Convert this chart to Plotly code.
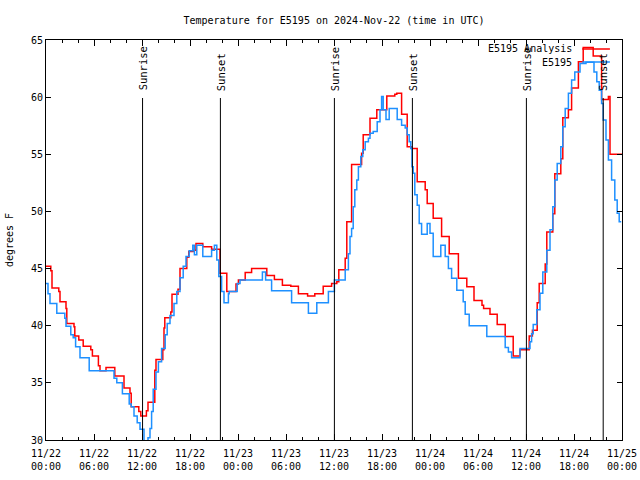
import pandas as pd
import plotly.graph_objects as go

# ---- data (hours since 2024-11-22 00:00 UTC, degrees F) ----
analysis_hours = [0.0, 0.6, 0.75, 1.6, 1.75, 2.5, 2.6, 3.5, 3.6, 4.1, 4.65, 5.6, 5.8, 6.55, 6.75,
                  7.5, 8.6, 9.75, 10.5, 10.65, 11.6, 11.85, 12.55, 12.75, 13.6, 13.75, 14.6, 14.75,
                  14.85, 15.6, 15.75, 16.5, 16.75, 17.6, 17.85, 18.4, 18.75, 19.6, 20.7, 21.75,
                  22.6, 23.75, 24.05, 24.9, 25.7, 27.6, 28.55, 29.55, 30.6, 31.55, 32.7, 33.6,
                  34.65, 35.7, 36.35, 36.6, 37.4, 37.6, 38.2, 39.45, 39.65, 40.5, 41.35, 42.6,
                  43.6, 43.85, 44.45, 45.15, 45.7, 46.4, 47.4, 47.65, 48.4, 49.45, 50.4, 51.55,
                  52.6, 53.5, 54.5, 54.7, 55.5, 56.4, 57.4, 58.4, 59.25, 60.4, 60.8, 61.4, 61.65,
                  62.4, 62.6, 63.35, 63.6, 64.35, 64.6, 65.3, 65.7, 66.55, 67.15, 68.4, 69.45,
                  70.3, 70.5, 72.0]
analysis_temps = [45.2, 44.8, 43.3, 43.0, 42.1, 41.5, 40.2, 39.9, 39.1, 38.75, 38.2, 37.9, 37.35,
                  36.5, 36.05, 36.35, 35.6, 34.55, 34.1, 32.9, 32.5, 32.1, 32.55, 33.3, 36.1,
                  37.05, 37.9, 39.8, 40.7, 41.2, 42.75, 43.2, 45.0, 46.0, 46.5, 46.6, 47.2, 46.9,
                  46.7, 44.6, 43.0, 43.65, 44.0, 44.65, 45.0, 44.4, 44.05, 43.55, 43.45, 42.8,
                  42.6, 42.8, 43.45, 43.7, 43.85, 44.9, 45.9, 49.1, 54.1, 55.1, 56.7, 58.15, 58.9,
                  60.1, 60.25, 60.35, 58.5, 55.65, 55.5, 52.6, 51.9, 50.7, 49.4, 47.8, 46.3,
                  44.15, 43.4, 42.2, 41.8, 41.5, 41.0, 40.1, 39.05, 37.35, 37.9, 39.1, 39.6,
                  42.0, 43.7, 45.4, 48.2, 49.8, 53.3, 54.6, 58.2, 58.9, 60.8, 63.1, 64.35, 63.6,
                  59.8, 60.05, 55.0, 55.0]

obs_hours = [0.0, 0.25, 0.5, 1.35, 2.35, 2.5, 3.1, 3.4, 3.7, 4.25, 5.4, 8.5, 8.85, 9.55, 10.4,
             10.65, 11.0, 11.4, 11.75, 12.25, 12.75, 13.0, 13.2, 13.4, 13.75, 14.05, 14.45,
             14.9, 15.15, 15.5, 16.0, 16.35, 16.75, 17.15, 17.5, 17.9, 18.35, 18.55, 18.85,
             19.6, 20.7, 21.05, 21.35, 21.6, 21.95, 22.25, 22.8, 22.9, 23.9, 24.25, 27.05,
             27.45, 28.2, 30.7, 32.8, 33.85, 35.3, 36.05, 37.4, 37.8, 38.0, 38.2, 38.4, 38.6,
             38.85, 39.05, 39.35, 39.6, 39.9, 40.3, 40.5, 40.9, 41.4, 41.75, 41.95, 42.15,
             42.5, 42.9, 43.9, 44.45, 44.9, 45.15, 45.4, 45.6, 45.75, 45.9, 46.1, 46.4, 46.65,
             46.95, 47.65, 48.0, 48.4, 49.35, 49.9, 50.3, 50.7, 51.35, 52.15, 52.4, 52.9,
             55.1, 57.4, 57.8, 58.2, 59.25, 60.5, 60.7, 60.9, 61.35, 61.75, 62.1, 62.6, 63.0,
             63.35, 63.6, 63.9, 64.35, 64.6, 64.9, 65.3, 65.7, 66.1, 66.75, 67.5, 68.5, 68.85,
             69.15, 69.45, 69.65, 70.0, 70.3, 70.7, 71.1, 71.4, 71.65, 71.9]
obs_temps = [43.7, 42.8, 41.95, 41.1, 40.65, 39.95, 39.2, 38.95, 38.15, 37.2, 36.05, 35.4, 35.0,
             34.05, 33.15, 32.9, 32.1, 31.5, 30.95, 29.5, 30.2, 31.0, 32.5, 34.45, 35.95, 36.85,
             38.0, 39.2, 40.2, 40.9, 41.95, 43.0, 44.2, 45.2, 46.05, 46.55, 47.05, 46.2, 47.05,
             46.05, 46.6, 47.05, 45.75, 44.3, 43.0, 42.0, 42.8, 43.0, 43.7, 44.0, 44.7, 44.0,
             43.05, 42.0, 41.1, 42.0, 43.0, 44.0, 44.9, 46.3, 47.8, 48.5, 50.4, 51.9, 52.75,
             53.9, 54.8, 55.4, 56.1, 56.4, 56.85, 57.0, 57.85, 58.9, 60.05, 58.9, 58.05, 59.0,
             58.05, 57.55, 57.3, 56.7, 56.1, 55.5, 53.9, 53.35, 51.45, 50.55, 48.95, 48.0,
             48.95, 48.1, 46.05, 47.05, 46.05, 45.0, 44.15, 43.1, 42.1, 41.0, 40.0, 39.05,
             38.1, 37.7, 37.2, 38.0, 38.6, 39.3, 40.1, 41.4, 42.85, 44.7, 46.6, 48.4, 50.4,
             52.75, 54.2, 55.65, 57.4, 59.0, 60.35, 61.5, 62.2, 62.95, 63.05, 62.2, 61.35,
             60.6, 59.45, 58.0, 56.25, 54.5, 52.75, 51.0, 49.85, 49.1, 49.1]

sun_hours = [12.07, 21.8, 36.05, 45.8, 60.05, 69.65]
sun_labels = ["Sunrise", "Sunset", "Sunrise", "Sunset", "Sunrise", "Sunset"]

series_names = ["E5195 Analysis", "E5195"]
series_colors = ["#ff0000", "#1e90ff"]

title_text = "Temperature for E5195 on 2024-Nov-22 (time in UTC)"
y_title = "degrees F"

start = pd.Timestamp("2024-11-22 00:00")
end = pd.Timestamp("2024-11-25 00:00")


def to_time(hours):
    return [start + pd.Timedelta(hours=h) for h in hours]


FONT = "DejaVu Sans Mono"
FS = 10
W, H = 640, 480

fig = go.Figure()
fig.add_trace(go.Scatter(x=to_time(analysis_hours), y=analysis_temps, mode="lines",
                         line=dict(color=series_colors[0], width=1.5, shape="hv"),
                         name=series_names[0], showlegend=False))
fig.add_trace(go.Scatter(x=to_time(obs_hours), y=obs_temps, mode="lines",
                         line=dict(color=series_colors[1], width=1.5, shape="hv"),
                         name=series_names[1], showlegend=False))

line_top = 0.855
for h, lab in zip(sun_hours, sun_labels):
    t = start + pd.Timedelta(hours=h)
    fig.add_shape(type="line", xref="x", yref="paper", x0=t, x1=t, y0=0, y1=line_top,
                  line=dict(color="black", width=1))
    fig.add_annotation(x=t, xref="x", y=line_top + 0.013, yref="paper", text=lab,
                       textangle=-90, showarrow=False, xanchor="center", yanchor="bottom",
                       font=dict(family=FONT, size=FS + 0.5, color="black"))

# manual legend (text left, sample right, like gnuplot)
leg_rows = [0.9775, 0.945]
for name, col, yy in zip(series_names, series_colors, leg_rows):
    fig.add_annotation(x=0.917, xref="paper", y=yy, yref="paper", text=name, showarrow=False,
                       xanchor="right", yanchor="middle",
                       font=dict(family=FONT, size=FS, color="black"))
    fig.add_shape(type="line", xref="paper", yref="paper", x0=0.931, x1=0.979, y0=yy, y1=yy,
                  line=dict(color=col, width=1.5))

tickvals = [start + pd.Timedelta(hours=6 * i) for i in range(13)]
ticktext = [t.strftime("%m/%d") + "<br>" + t.strftime("%H:%M") for t in tickvals]

fig.update_layout(
    width=W, height=H,
    paper_bgcolor="white", plot_bgcolor="white",
    margin=dict(l=46, r=18, t=40, b=40, autoexpand=False),
    title=dict(text=title_text, x=(46 + 576 / 2) / W, xanchor="center", y=1 - 20 / H,
               yanchor="middle", yref="container",
               font=dict(family=FONT, size=FS, color="black")),
    font=dict(family=FONT, size=FS, color="black"),
    xaxis=dict(type="date", range=[start, end], tickvals=tickvals, ticktext=ticktext,
               ticks="inside", ticklen=6, tickcolor="black", showline=True, linecolor="black",
               linewidth=1, mirror="ticks", showgrid=False, zeroline=False, automargin=False,
               tickfont=dict(family=FONT, size=FS), ticklabelstandoff=4,
               minor=dict(dtick=2 * 3600 * 1000, ticks="inside", ticklen=3, tickcolor="black",
                          showgrid=False)),
    yaxis=dict(range=[30, 65], tickvals=[30, 35, 40, 45, 50, 55, 60, 65], ticks="inside",
               ticklen=5, tickcolor="black", showline=True, linecolor="black", linewidth=1,
               mirror="ticks", showgrid=False, zeroline=False, automargin=False,
               tickfont=dict(family=FONT, size=FS),
               title=dict(text=y_title, standoff=15, font=dict(family=FONT, size=FS))),
)

fig.write_html("out.html", config={"displayModeBar": False},
               post_script="document.body.style.margin='0';document.body.style.overflow='hidden';")
